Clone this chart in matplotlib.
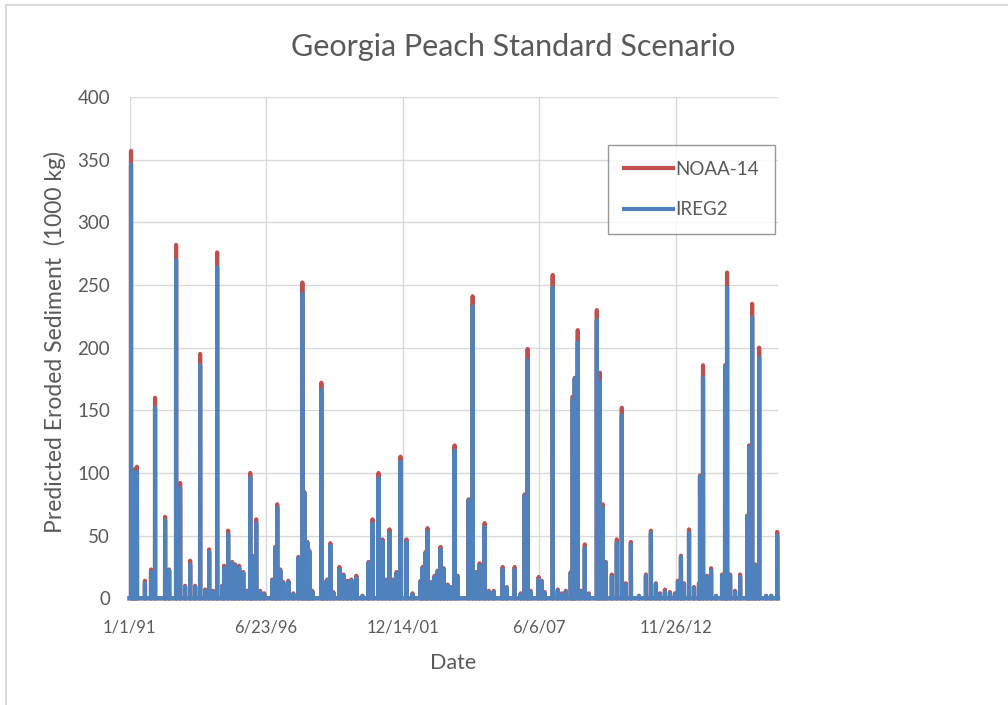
import matplotlib.pyplot as plt
from matplotlib.patches import Rectangle
import numpy as np
import pandas as pd

# event days (everything else is zero), values in 1000 kg
event_dates = [
    '1991-01-23', '1991-02-21', '1991-03-22', '1991-04-20', '1991-08-15', '1991-11-12',
    '1992-01-10', '1992-06-05', '1992-08-03', '1992-11-13', '1993-01-11', '1993-03-25',
    '1993-06-07', '1993-08-19', '1993-10-31', '1994-01-12', '1994-03-12', '1994-05-10',
    '1994-07-07', '1994-09-18', '1994-10-17', '1994-12-15', '1995-02-12', '1995-03-28',
    '1995-05-26', '1995-07-24', '1995-09-21', '1995-11-04', '1995-12-03', '1996-01-30',
    '1996-03-28', '1996-05-26', '1996-09-21', '1996-11-04', '1996-12-03', '1997-01-17',
    '1997-03-02', '1997-05-15', '1997-07-27', '1997-10-08', '1997-12-06', '1998-01-04',
    '1998-02-17', '1998-03-18', '1998-05-01', '1998-09-10', '1998-10-10', '1998-12-07',
    '1999-01-20', '1999-03-05', '1999-06-01', '1999-07-30', '1999-09-27', '1999-11-24',
    '2000-02-05', '2000-05-03', '2000-07-31', '2000-09-28', '2000-12-25', '2001-02-21',
    '2001-04-06', '2001-06-04', '2001-08-01', '2001-09-15', '2001-11-12', '2002-02-08',
    '2002-05-07', '2002-09-02', '2002-10-01', '2002-11-14', '2002-12-13', '2003-02-10',
    '2003-03-26', '2003-05-09', '2003-06-22', '2003-08-05', '2003-10-03', '2003-11-16',
    '2004-01-13', '2004-02-26', '2004-08-06', '2004-10-04', '2004-12-01', '2005-01-14',
    '2005-03-28', '2005-05-26', '2005-08-07', '2005-12-17', '2006-02-14', '2006-06-11',
    '2006-09-07', '2006-11-04', '2006-12-18', '2007-01-31', '2007-05-28', '2007-07-12',
    '2007-08-25', '2007-12-20', '2008-03-03', '2008-05-01', '2008-06-28', '2008-09-09',
    '2008-10-08', '2008-11-07', '2008-12-21', '2009-02-03', '2009-04-03', '2009-06-01',
    '2009-09-26', '2009-11-09', '2009-12-23', '2010-02-05', '2010-05-04', '2010-07-16',
    '2010-09-27', '2010-11-25', '2011-02-07', '2011-06-05', '2011-09-15', '2011-11-27',
    '2012-02-08', '2012-04-07', '2012-06-19', '2012-09-01', '2012-11-13', '2012-12-27',
    '2013-02-09', '2013-03-25', '2013-06-07', '2013-08-19', '2013-10-31', '2013-11-15',
    '2013-12-29', '2014-02-26', '2014-04-26', '2014-07-08', '2014-10-04', '2014-11-17',
    '2014-12-16', '2015-01-29', '2015-04-12', '2015-06-25', '2015-10-06', '2015-11-04',
    '2015-12-18', '2016-01-31', '2016-03-30', '2016-07-10', '2016-09-22', '2016-12-19',
]

ireg2 = [
    346, 98, 100, 101, 12, 21,
    152, 62, 22, 270, 88, 9,
    27, 9, 186, 6, 37, 5,
    264, 9, 24, 51, 28, 26,
    24, 20, 5, 96, 33, 60,
    5, 3, 14, 40, 72, 22,
    12, 13, 3, 32, 243, 84,
    44, 37, 5, 166, 12, 14,
    42, 4, 23, 18, 13, 14,
    16, 2, 28, 60, 96, 45,
    14, 52, 14, 20, 109, 45,
    3, 13, 24, 36, 53, 12,
    17, 21, 39, 23, 10, 8,
    118, 17, 78, 233, 20, 26,
    57, 5, 5, 23, 8, 23,
    3, 82, 190, 5, 15, 13,
    4, 248, 6, 3, 5, 20,
    158, 175, 204, 5, 40, 3,
    222, 172, 72, 28, 17, 44,
    146, 11, 43, 2, 18, 52,
    11, 3, 5, 4, 3, 13,
    33, 11, 52, 8, 11, 97,
    176, 17, 22, 2, 18, 185,
    248, 18, 5, 17, 65, 120,
    224, 26, 192, 2, 2, 50,
]

noaa14 = [
    357, 101, 103, 105, 14, 23,
    160, 65, 23, 282, 92, 10,
    30, 10, 195, 7, 39, 6,
    276, 10, 26, 54, 29, 27,
    26, 21, 6, 100, 34, 63,
    6, 4, 15, 41, 75, 23,
    13, 14, 4, 33, 252, 85,
    45, 38, 6, 172, 13, 15,
    44, 5, 25, 19, 14, 15,
    18, 2, 29, 63, 100, 47,
    15, 55, 15, 21, 113, 47,
    4, 14, 25, 37, 56, 13,
    18, 22, 41, 24, 11, 9,
    122, 18, 79, 241, 21, 28,
    60, 6, 6, 25, 9, 25,
    4, 83, 199, 6, 17, 14,
    5, 258, 7, 4, 6, 21,
    161, 176, 214, 6, 43, 4,
    230, 180, 75, 29, 19, 47,
    152, 12, 45, 2, 19, 54,
    12, 4, 7, 5, 4, 14,
    34, 12, 55, 9, 12, 98,
    186, 18, 24, 2, 19, 186,
    260, 19, 6, 19, 66, 122,
    235, 27, 200, 2, 2, 53,
]

tick_dates = ['1991-01-01', '1996-06-23', '2001-12-14', '2007-06-06', '2012-11-26']
tick_labels = ['1/1/91', '6/23/96', '12/14/01', '6/6/07', '11/26/12']

plt.rcParams['font.family'] = ['Lato', 'DejaVu Sans']
text_col = '#595959'
red = '#C0504D'
blue = '#4F81BD'

# daily series, zero on days without an event
days = pd.date_range('1991-01-01', '2016-12-31', freq='D')
s_noaa = pd.Series(0.0, index=days)
s_noaa.loc[pd.to_datetime(event_dates)] = noaa14
s_ireg = pd.Series(0.0, index=days)
s_ireg.loc[pd.to_datetime(event_dates)] = ireg2

fig = plt.figure(figsize=(10.08, 7.05), dpi=100)
ax = fig.add_axes([129.5/1008, 1-598.3/705, (778-129.5)/1008, (598.3-97)/705])

ax.plot(s_noaa.index, s_noaa.values, color=red, lw=3, label='NOAA-14', clip_on=False)
ax.plot(s_ireg.index, s_ireg.values, color=blue, lw=3, label='IREG2', clip_on=False)

ax.set_xlim(pd.Timestamp('1991-01-01'), pd.Timestamp('2016-12-31'))
ax.set_ylim(0, 400)
ax.set_yticks(np.arange(0, 401, 50))
ax.set_xticks(pd.to_datetime(tick_dates))
ax.set_xticklabels(tick_labels)
ax.grid(True, color='#D9D9D9', lw=1)
ax.set_axisbelow(True)
for sp in ax.spines.values():
    sp.set_visible(False)
ax.tick_params(length=0, colors=text_col)
ax.tick_params(axis='x', labelsize=12, pad=15)
ax.tick_params(axis='y', labelsize=13.5, pad=14)

leg = ax.legend(loc='upper right', bbox_to_anchor=(0.9954, 0.9043), borderaxespad=0,
                fontsize=13.5, handlelength=2.6, labelspacing=1.25, borderpad=0.85,
                handletextpad=0.15, fancybox=False, frameon=True)
leg.get_frame().set_edgecolor('#7F7F7F')
leg.get_frame().set_linewidth(1)
for t in leg.get_texts():
    t.set_color(text_col)

fig.text(513/1008, 1-47/705, 'Georgia Peach Standard Scenario', ha='center', va='center',
         fontsize=22, color=text_col)
fig.text(55/1008, 1-342/705, 'Predicted Eroded Sediment  (1000 kg)', ha='center', va='center',
         rotation=90, fontsize=16.5, color=text_col)
fig.text(453/1008, 1-663/705, 'Date', ha='center', va='center', fontsize=15.5, color=text_col)

# outer chart-area border (only top and left edges show in the crop)
fig.add_artist(Rectangle((6/1008, -0.1), 1.2, 0.1 + 1-5/705, transform=fig.transFigure,
                         fill=False, edgecolor='#D9D9D9', lw=1.5))

fig.savefig('out.png', dpi=100)
